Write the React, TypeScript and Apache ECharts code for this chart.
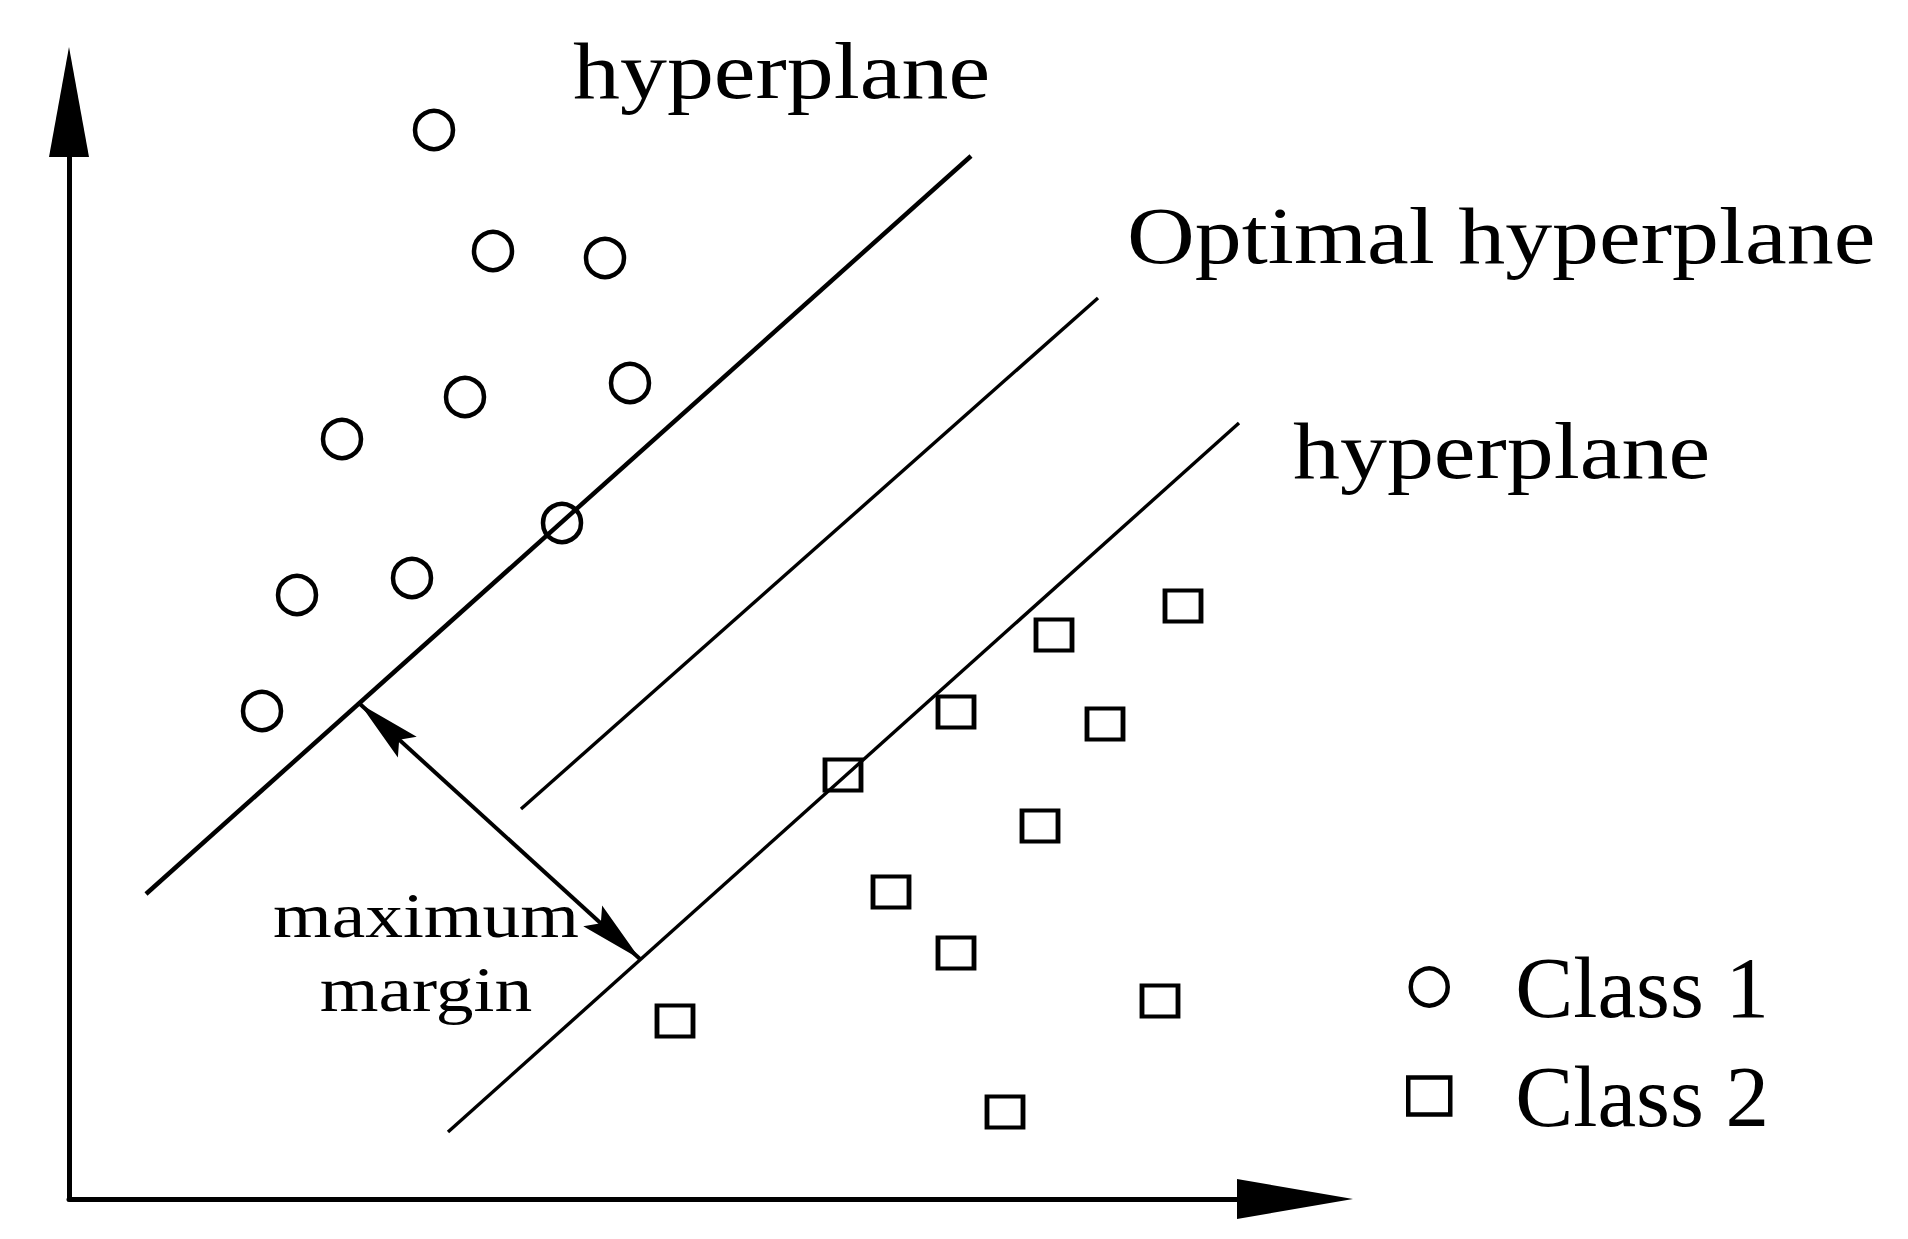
import React, { useEffect, useRef } from "react";
import * as echarts from "echarts";

// Schematic coordinates (1 unit = 10 px), origin at the axes' corner
const class1X = [36.5, 42.4, 53.6, 39.6, 56.1, 27.3, 49.3, 34.3, 22.8, 19.3];
const class1Y = [106.9, 94.8, 94.1, 80.2, 81.6, 76.0, 67.6, 62.1, 60.4, 48.8];
const class2X = [111.4, 98.5, 88.7, 103.6, 77.4, 97.1, 82.2, 88.7, 109.1, 60.6, 93.6];
const class2Y = [59.3, 56.4, 48.7, 47.5, 42.4, 37.3, 30.7, 24.6, 19.8, 17.8, 8.7];
const upperHyperplane = [[7.7, 30.5], [90.2, 104.3]];
const optimalHyperplane = [[45.2, 39.0], [102.9, 90.1]];
const lowerHyperplane = [[37.9, 6.7], [117.0, 77.6]];
const marginArrow = [[29.1, 49.5], [57.1, 24.0]];
const xMax = 122.6;
const yMax = 109.7;
const legendNames = ["Class 1", "Class 2"];
const labelTexts = ["hyperplane", "Optimal hyperplane", "hyperplane", "maximum\nmargin"];

const SERIF = '"Liberation Serif", "Times New Roman", serif';
const ARROW = "path://M0,0 L14,64 L0,53 L-14,64 Z M-64,-64 M64,64";

export default function App() {
  const ref = useRef<HTMLDivElement>(null);
  useEffect(() => {
    if (!ref.current) return;
    const chart = echarts.init(ref.current, undefined, { renderer: "svg" });
    const textStyle = (text: string, fontSize: number, align: string) => ({
      text,
      fontSize,
      fontFamily: SERIF,
      fill: "#000",
      align,
      textAlign: align,
      verticalAlign: "middle",
      textVerticalAlign: "middle",
    });
    const markerStyle = {
      color: "rgba(255,255,255,0)",
      borderColor: "#000",
      borderWidth: 4.5,
      opacity: 1,
    };
    chart.setOption({
      animation: false,
      backgroundColor: "#fff",
      grid: { left: 69, top: 102, width: 1226, height: 1097, containLabel: false },
      xAxis: {
        type: "value",
        min: 0,
        max: xMax,
        axisLine: {
          show: true,
          onZero: false,
          symbol: ["none", "triangle"],
          symbolSize: [40, 116],
          lineStyle: { color: "#000", width: 5 },
        },
        axisTick: { show: false },
        axisLabel: { show: false },
        splitLine: { show: false },
      },
      yAxis: {
        type: "value",
        min: 0,
        max: yMax,
        axisLine: {
          show: true,
          onZero: false,
          symbol: ["none", "triangle"],
          symbolSize: [40, 110],
          lineStyle: { color: "#000", width: 5 },
        },
        axisTick: { show: false },
        axisLabel: { show: false },
        splitLine: { show: false },
      },
      legend: {
        data: legendNames,
        orient: "vertical",
        left: 1406,
        top: 942,
        padding: 0,
        itemWidth: 42,
        itemHeight: 37,
        itemGap: 19,
        selectedMode: false,
        itemStyle: { borderWidth: 4.5, borderColor: "#000", opacity: 1 },
        textStyle: {
          fontSize: 87,
          fontFamily: SERIF,
          color: "#000",
          lineHeight: 90,
          padding: [0, 0, 0, 60],
        },
      },
      graphic: [
        { type: "text", x: 573, y: 71, scaleX: 1.174, silent: true, style: textStyle(labelTexts[0], 80, "left") },
        { type: "text", x: 1127, y: 236, scaleX: 1.174, silent: true, style: textStyle(labelTexts[1], 80, "left") },
        { type: "text", x: 1293, y: 451, scaleX: 1.174, silent: true, style: textStyle(labelTexts[2], 80, "left") },
        {
          type: "text",
          x: 426,
          y: 953,
          scaleX: 1.18,
          silent: true,
          style: { ...textStyle(labelTexts[3], 64, "center"), lineHeight: 74 },
        },
      ],
      series: [
        {
          type: "line",
          data: upperHyperplane,
          symbol: "none",
          silent: true,
          lineStyle: { color: "#000", width: 4.5 },
          z: 2,
        },
        {
          type: "line",
          data: optimalHyperplane,
          symbol: "none",
          silent: true,
          lineStyle: { color: "#000", width: 3.4 },
          z: 2,
        },
        {
          type: "line",
          data: lowerHyperplane,
          symbol: "none",
          silent: true,
          lineStyle: { color: "#000", width: 3.4 },
          z: 2,
        },
        {
          type: "lines",
          coordinateSystem: "cartesian2d",
          silent: true,
          symbol: [ARROW, ARROW],
          symbolSize: 128,
          lineStyle: { color: "#000", width: 4, opacity: 1, curveness: 0 },
          data: [{ coords: marginArrow }],
          z: 3,
        },
        {
          name: legendNames[0],
          type: "scatter",
          symbol: "circle",
          symbolSize: 38,
          data: class1X.map((x, i) => [x, class1Y[i]]),
          itemStyle: markerStyle,
          z: 5,
        },
        {
          name: legendNames[1],
          type: "scatter",
          symbol: "rect",
          symbolSize: [36, 31],
          data: class2X.map((x, i) => [x, class2Y[i]]),
          itemStyle: markerStyle,
          z: 5,
        },
      ],
    });
    return () => chart.dispose();
  }, []);
  return (
    <div
      ref={ref}
      style={{ position: "fixed", left: 0, top: 0, width: 1908, height: 1239, background: "#fff" }}
    />
  );
}
